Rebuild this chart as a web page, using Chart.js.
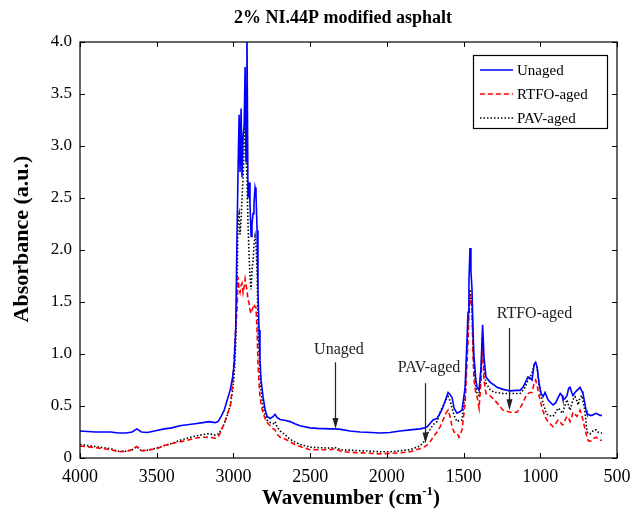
<!DOCTYPE html>
<html>
<head>
<meta charset="utf-8">
<script src="https://cdn.jsdelivr.net/npm/chart.js@4/dist/chart.umd.min.js"></script>
<style>
html,body{margin:0;padding:0;background:#fff;}
#wrap{width:633px;height:511px;position:relative;}
</style>
</head>
<body>
<div id="wrap"><canvas id="c" width="633" height="511"></canvas></div>
<script>
const chartTitle = '2% NI.44P modified asphalt';
const seriesNames = ['Unaged', 'RTFO-aged', 'PAV-aged'];
const wavenumbers = [4000,3900,3800,3750,3700,3660,3630,3600,3560,3500,3450,3400,3350,3300,3250,3200,3160,3120,3100,3080,3060,3040,3020,3005,2995,2985,2976,2970,2963,2957,2950,2944,2937,2930,2924,2918,2912,2905,2898,2892,2885,2879,2872,2866,2859,2853,2846,2840,2833,2827,2820,2807,2794,2781,2760,2740,2729,2716,2696,2660,2631,2600,2566,2501,2450,2370,2338,2300,2240,2175,2100,2044,1980,1914,1849,1784,1751,1738,1720,1699,1673,1653,1634,1615,1601,1588,1575,1562,1543,1530,1510,1490,1478,1471,1465,1458,1452,1445,1438,1432,1420,1412,1399,1386,1376,1367,1354,1328,1300,1282,1243,1197,1152,1132,1113,1099,1080,1067,1054,1040,1030,1021,1008,995,982,969,963,950,917,900,884,870,858,852,840,826,815,806,795,787,774,761,754,741,728,722,709,702,696,689,676,663,650,636,624,611,598];
const unaged = [0.26,0.25,0.25,0.24,0.24,0.25,0.28,0.25,0.245,0.265,0.28,0.29,0.31,0.32,0.33,0.34,0.35,0.34,0.35,0.40,0.46,0.56,0.66,0.78,0.90,1.25,2.20,2.75,3.30,2.75,3.36,2.70,3.10,3.20,3.76,2.85,4.15,2.50,2.65,2.45,2.13,2.25,2.35,2.45,2.60,2.55,2.19,1.60,1.23,0.95,0.75,0.59,0.47,0.40,0.38,0.40,0.42,0.39,0.37,0.36,0.35,0.33,0.31,0.29,0.285,0.28,0.28,0.275,0.26,0.25,0.245,0.24,0.245,0.26,0.27,0.28,0.29,0.30,0.33,0.365,0.38,0.43,0.49,0.57,0.63,0.61,0.58,0.48,0.43,0.44,0.46,0.68,1.13,1.40,1.71,2.02,1.80,1.62,1.20,0.97,0.75,0.68,0.65,0.875,1.28,0.97,0.78,0.73,0.70,0.68,0.66,0.645,0.65,0.65,0.68,0.72,0.78,0.77,0.75,0.90,0.92,0.875,0.72,0.62,0.59,0.63,0.63,0.56,0.51,0.53,0.58,0.62,0.60,0.56,0.57,0.60,0.67,0.68,0.63,0.60,0.63,0.65,0.66,0.68,0.64,0.62,0.52,0.46,0.43,0.42,0.41,0.41,0.42,0.43,0.42,0.41,0.41];
const rtfoAged = [0.115,0.10,0.08,0.06,0.065,0.08,0.11,0.07,0.075,0.09,0.12,0.14,0.155,0.17,0.19,0.20,0.20,0.19,0.20,0.26,0.33,0.42,0.50,0.72,0.98,1.25,1.45,1.74,1.62,1.59,1.66,1.68,1.59,1.65,1.72,1.66,1.62,1.52,1.49,1.42,1.39,1.42,1.45,1.48,1.45,1.45,1.23,0.91,0.72,0.59,0.52,0.43,0.38,0.34,0.31,0.28,0.27,0.23,0.20,0.18,0.155,0.13,0.11,0.08,0.08,0.08,0.09,0.065,0.055,0.05,0.045,0.04,0.045,0.05,0.06,0.09,0.11,0.125,0.15,0.20,0.25,0.30,0.365,0.43,0.46,0.40,0.30,0.25,0.24,0.20,0.27,0.53,0.90,1.13,1.40,1.57,1.50,1.45,0.97,0.75,0.62,0.59,0.48,0.75,1.16,0.75,0.62,0.60,0.56,0.53,0.46,0.44,0.44,0.48,0.53,0.58,0.62,0.63,0.63,0.72,0.75,0.70,0.60,0.52,0.45,0.40,0.38,0.35,0.30,0.33,0.365,0.35,0.32,0.32,0.36,0.40,0.38,0.35,0.39,0.44,0.42,0.40,0.42,0.46,0.40,0.365,0.28,0.24,0.20,0.17,0.16,0.17,0.19,0.20,0.18,0.17,0.17];
const pavAged = [0.13,0.11,0.09,0.065,0.065,0.08,0.11,0.07,0.075,0.095,0.12,0.14,0.17,0.19,0.21,0.225,0.235,0.22,0.23,0.27,0.33,0.41,0.51,0.65,0.80,1.10,1.70,2.30,2.35,2.15,2.30,2.50,2.70,3.00,3.40,2.90,2.70,2.26,1.95,1.75,1.62,1.80,1.90,2.05,2.13,2.05,1.81,1.30,1.00,0.82,0.65,0.49,0.42,0.365,0.34,0.33,0.35,0.30,0.26,0.22,0.18,0.155,0.13,0.105,0.10,0.095,0.10,0.08,0.075,0.07,0.065,0.06,0.06,0.07,0.08,0.115,0.17,0.23,0.27,0.32,0.35,0.44,0.50,0.56,0.59,0.55,0.48,0.41,0.35,0.36,0.365,0.62,1.00,1.20,1.45,1.62,1.55,1.45,1.05,0.875,0.68,0.62,0.60,0.85,1.16,0.85,0.72,0.66,0.63,0.63,0.62,0.62,0.62,0.62,0.65,0.68,0.75,0.77,0.82,0.89,0.88,0.875,0.70,0.60,0.53,0.47,0.44,0.41,0.40,0.44,0.48,0.46,0.43,0.44,0.50,0.56,0.50,0.46,0.52,0.56,0.59,0.55,0.51,0.58,0.60,0.55,0.45,0.35,0.26,0.24,0.23,0.25,0.27,0.27,0.25,0.24,0.24];
const xTicks = [4000,3500,3000,2500,2000,1500,1000,500];
const yTicks = [0,0.5,1.0,1.5,2.0,2.5,3.0,3.5,4.0];
const notes = [
  {label:'Unaged', x:2338, top:0.92, bottom:0.28, textX:2312, textY:1.04},
  {label:'PAV-aged', x:1751, top:0.72, bottom:0.14, textX:1725, textY:0.87},
  {label:'RTFO-aged', x:1204, top:1.25, bottom:0.46, textX:1038, textY:1.39}
];

const SERIF = '"Liberation Serif","Times New Roman",serif';
const toXY = arr => wavenumbers.map((w,i)=>({x:w,y:arr[i]}));

const styles = [
  {color:'#0000ff', dash:[], width:1.6},
  {color:'#ff0000', dash:[5,3], width:1.6},
  {color:'#000000', dash:[1.5,2], width:1.6}
];
const seriesData = [unaged, rtfoAged, pavAged];

const decor = {
  id:'decor',
  beforeDraw(chart){
    const ctx = chart.ctx;
    ctx.save(); ctx.fillStyle='#fff'; ctx.fillRect(0,0,chart.width,chart.height); ctx.restore();
  },
  afterDraw(chart){
    const ctx = chart.ctx, a = chart.chartArea, xs = chart.scales.x, ys = chart.scales.y;
    ctx.save();
    ctx.strokeStyle='#000'; ctx.lineWidth=1.2; ctx.setLineDash([]);
    ctx.strokeRect(a.left, a.top, a.right-a.left, a.bottom-a.top);
    ctx.lineWidth=1;
    const tl=5;
    xTicks.forEach(v=>{
      const px=Math.round(xs.getPixelForValue(v))+0.5;
      ctx.beginPath(); ctx.moveTo(px,a.bottom); ctx.lineTo(px,a.bottom-tl);
      ctx.moveTo(px,a.top); ctx.lineTo(px,a.top+tl); ctx.stroke();
    });
    yTicks.forEach(v=>{
      const py=Math.round(ys.getPixelForValue(v))+0.5;
      ctx.beginPath(); ctx.moveTo(a.left,py); ctx.lineTo(a.left+tl,py);
      ctx.moveTo(a.right,py); ctx.lineTo(a.right-tl,py); ctx.stroke();
    });
    ctx.fillStyle='#000';
    ctx.font='bold 18px '+SERIF; ctx.textAlign='center'; ctx.textBaseline='middle';
    ctx.fillText(chartTitle, 343, 18);
    const main='Wavenumber (cm', sup='-1', end=')';
    ctx.font='bold 21px '+SERIF;
    const w1=ctx.measureText(main).width, w3=ctx.measureText(end).width;
    ctx.font='bold 13px '+SERIF;
    const w2=ctx.measureText(sup).width;
    const total=w1+w2+w3;
    let sx=351 - total/2;
    const by=504;
    ctx.textAlign='left'; ctx.textBaseline='alphabetic';
    ctx.font='bold 21px '+SERIF; ctx.fillText(main,sx,by);
    ctx.font='bold 13px '+SERIF; ctx.fillText(sup,sx+w1,by-9);
    ctx.font='bold 21px '+SERIF; ctx.fillText(end,sx+w1+w2,by);
    ctx.save();
    ctx.translate(22,239);
    ctx.rotate(-Math.PI/2);
    ctx.font='bold 22px '+SERIF; ctx.textAlign='center'; ctx.textBaseline='middle';
    ctx.fillText('Absorbance (a.u.)',0,0);
    ctx.restore();
    notes.forEach(n=>{
      const px=Math.round(xs.getPixelForValue(n.x))+0.5;
      const t=ys.getPixelForValue(n.top), b=ys.getPixelForValue(n.bottom);
      ctx.strokeStyle='#222'; ctx.fillStyle='#222'; ctx.lineWidth=1.2;
      ctx.beginPath(); ctx.moveTo(px,t); ctx.lineTo(px,b-8); ctx.stroke();
      ctx.beginPath(); ctx.moveTo(px,b); ctx.lineTo(px-3,b-11); ctx.lineTo(px+3,b-11); ctx.closePath(); ctx.fill();
      ctx.font='16px '+SERIF; ctx.textAlign='center'; ctx.textBaseline='middle';
      ctx.fillText(n.label, xs.getPixelForValue(n.textX), ys.getPixelForValue(n.textY));
    });
    const lx=473, ly=55, lw=134, lh=73;
    ctx.fillStyle='#fff'; ctx.fillRect(lx,ly,lw,lh);
    ctx.strokeStyle='#000'; ctx.lineWidth=1.2; ctx.setLineDash([]);
    ctx.strokeRect(lx+0.5,ly+0.5,lw,lh);
    chart.data.datasets.forEach((ds,i)=>{
      const yy=ly+15+i*24;
      ctx.strokeStyle=ds.borderColor; ctx.lineWidth=ds.borderWidth; ctx.setLineDash(ds.borderDash||[]);
      ctx.beginPath(); ctx.moveTo(lx+7,yy); ctx.lineTo(lx+40,yy); ctx.stroke();
      ctx.setLineDash([]);
      ctx.fillStyle='#000'; ctx.font='15px '+SERIF; ctx.textAlign='left'; ctx.textBaseline='middle';
      ctx.fillText(ds.label, lx+44, yy+1);
    });
    ctx.restore();
  }
};

new Chart(document.getElementById('c'), {
  type:'line',
  data:{
    datasets: seriesNames.map((name,i)=>({
      label:name,
      data:toXY(seriesData[i]),
      borderColor:styles[i].color,
      borderDash:styles[i].dash,
      borderWidth:styles[i].width,
      pointRadius:0,
      tension:0,
      fill:false
    }))
  },
  options:{
    responsive:false,
    animation:false,
    events:[],
    layout:{padding:{top:42,right:16,left:0,bottom:0}},
    plugins:{legend:{display:false},title:{display:false},tooltip:{enabled:false}},
    scales:{
      x:{
        type:'linear', min:500, max:4000, reverse:true,
        grid:{display:false, drawTicks:false},
        border:{display:false},
        afterBuildTicks(s){ s.ticks = xTicks.map(v=>({value:v})); },
        afterFit(s){ s.height=53; s.paddingLeft=0; s.paddingRight=0; },
        ticks:{padding:8, color:'#000', font:{family:SERIF,size:18}, maxRotation:0, autoSkip:false, callback:v=>String(v)}
      },
      y:{
        type:'linear', min:0, max:4,
        grid:{display:false, drawTicks:false},
        border:{display:false},
        afterBuildTicks(s){ s.ticks = yTicks.map(v=>({value:v})); },
        afterFit(s){ s.width=80; s.paddingTop=0; s.paddingBottom=0; },
        ticks:{padding:8, color:'#000', font:{family:SERIF,size:17}, callback:v=>v===0?'0':Number(v).toFixed(1)}
      }
    }
  },
  plugins:[decor]
});
</script>
</body>
</html>
